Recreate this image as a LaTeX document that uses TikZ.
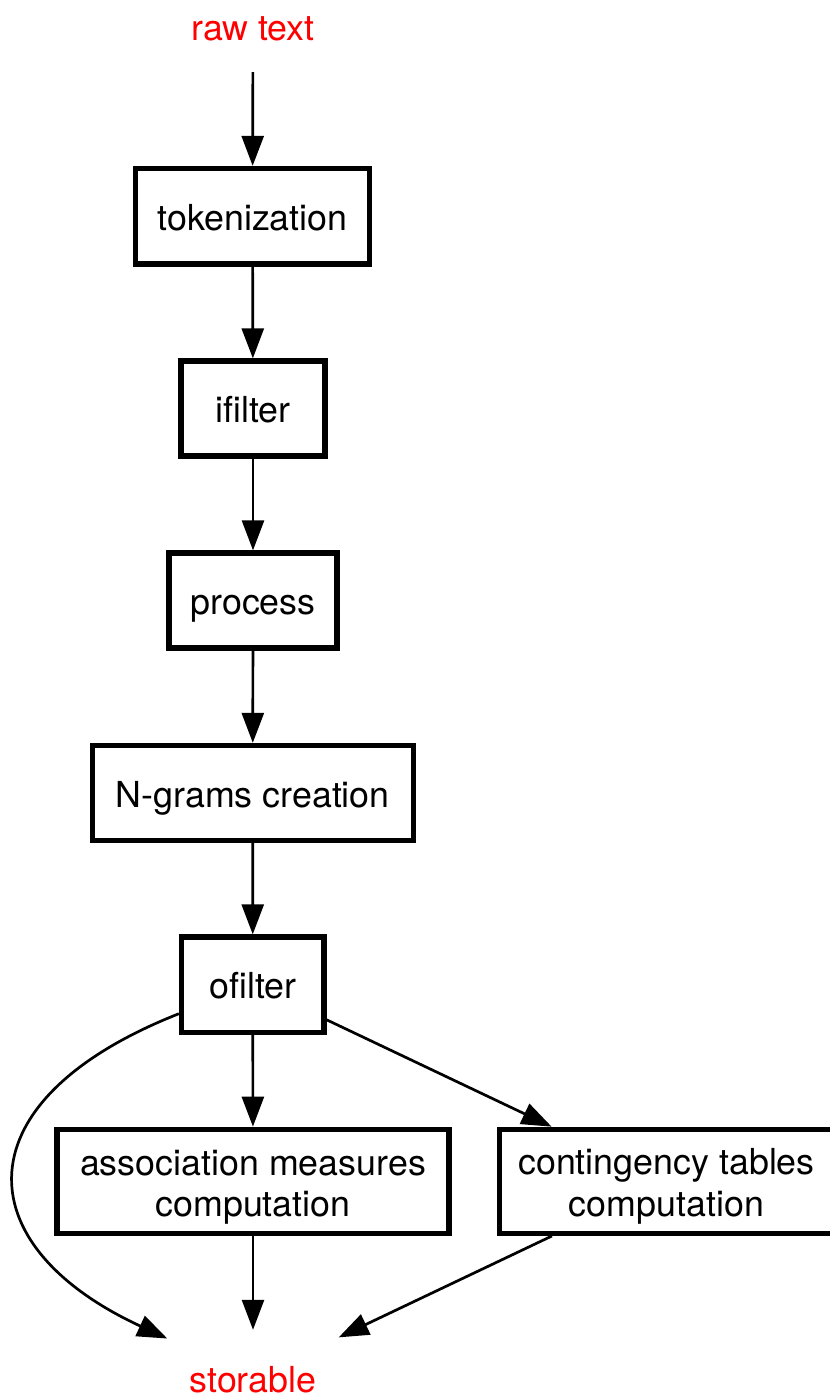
\documentclass[tikz,border=0pt]{standalone}
\usepackage{fontspec}
\setmainfont{TeX Gyre Heros}
\usetikzlibrary{arrows.meta}
\definecolor{termred}{RGB}{255,0,0}
\begin{document}
\begin{tikzpicture}[x=1pt,y=-1pt,
  every node/.style={inner sep=0pt,font=\fontsize{35.8}{41.7}\selectfont},
  stage/.style={draw,line width=5.3pt,rectangle,align=center,
    text height=36pt,text depth=8pt},
  twoline/.style={text height=77.7pt,text depth=7.1pt},
  term/.style={text=termred,text height=36pt,text depth=8pt},
  edge/.style={line width=2.7pt,-{Triangle[length=30pt,width=22pt]}}]
\useasboundingbox[fill=white] (0,0) rectangle (830,1398);

% terminals
\node[term,minimum height=92pt] (raw) at (253,26) {raw text};
\node[term,minimum width=171pt,minimum height=96pt] (store) at (253,1378) {storable};

% pipeline stages
\node[stage,minimum width=234pt,minimum height=95.5pt] (tok) at (252.5,216.25) {tokenization};
\node[stage,minimum width=144pt,minimum height=95pt] (ifil) at (253,408.5) {ifilter};
\node[stage,minimum width=168pt,minimum height=95pt] (proc) at (253,600.5) {process};
\node[stage,minimum width=321pt,minimum height=95pt] (ngram) at (252.7,793) {N-grams creation};
\node[stage,minimum width=142.5pt,minimum height=95.5pt] (ofil) at (252.75,984.75) {ofilter};
\node[stage,twoline,minimum width=392pt,minimum height=104.2pt] (assoc) at (253,1181.4) {association measures\\computation};
\node[stage,twoline,minimum width=334.4pt,minimum height=104pt] (cont) at (666.5,1181.3) {contingency tables\\computation};

% connectors
\draw[edge] (raw) -- (tok);
\draw[edge] (tok) -- (ifil);
\draw[edge] (ifil) -- (proc);
\draw[edge] (proc) -- (ngram);
\draw[edge] (ngram) -- (ofil);
\draw[edge] (ofil) -- (assoc);
\draw[edge] (ofil) -- (cont);
\draw[edge] (assoc) -- (store);
\draw[edge] (cont) -- (store);
\draw[edge] (ofil) .. controls (-40,1100) and (-35,1245) .. (store);
\end{tikzpicture}
\end{document}
